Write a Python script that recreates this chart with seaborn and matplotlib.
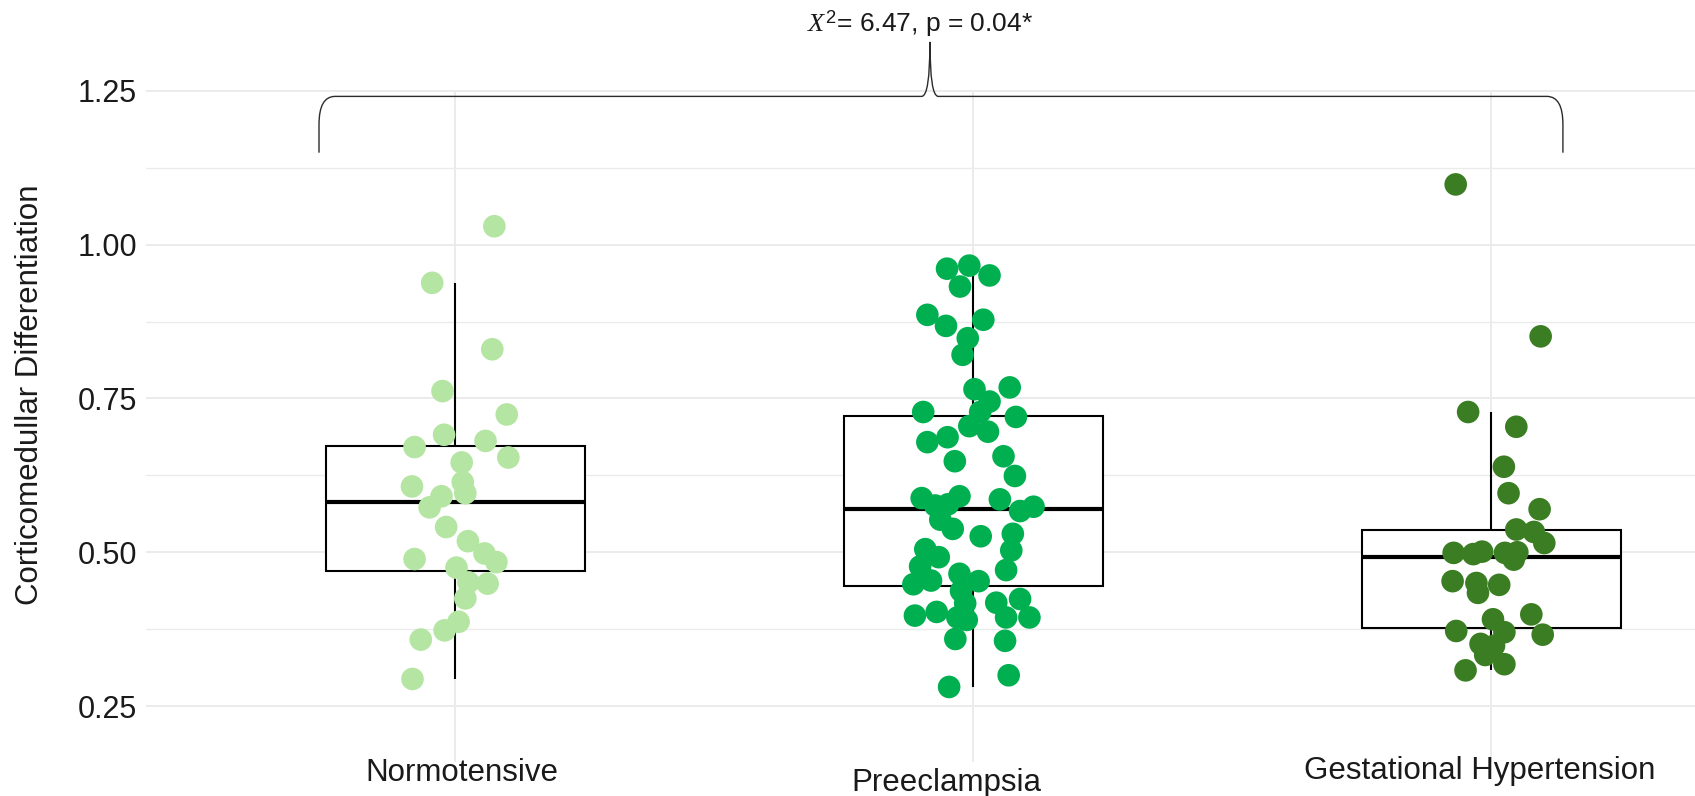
import matplotlib
matplotlib.use("Agg")
import numpy as np
import pandas as pd
import matplotlib.pyplot as plt
import seaborn as sns
from matplotlib.path import Path
from matplotlib.patches import PathPatch

# ---- data -------------------------------------------------------------
groups = ["Normotensive", "Preeclampsia", "Gestational Hypertension"]
group_colors = ["#B4E5A2", "#00B050", "#3A7D22"]

normotensive = [1.030, 0.938, 0.830, 0.762, 0.724, 0.691, 0.681, 0.671, 0.654,
                0.646, 0.607, 0.614, 0.596, 0.591, 0.573, 0.541, 0.518, 0.498,
                0.484, 0.489, 0.475, 0.449, 0.451, 0.425, 0.387, 0.373, 0.358,
                0.294]
normotensive_jitter = [0.075, -0.045, 0.071, -0.025, 0.099, -0.022, 0.058, -0.079,
                       0.102, 0.012, -0.084, 0.014, 0.019, -0.027, -0.050, -0.018,
                       0.024, 0.056, 0.079, -0.079, 0.002, 0.062, 0.025, 0.019,
                       0.006, -0.021, -0.067, -0.083]

preeclampsia = [0.961, 0.966, 0.950, 0.932, 0.886, 0.868, 0.878, 0.848, 0.821,
                0.765, 0.768, 0.745, 0.728, 0.728, 0.720, 0.705, 0.696, 0.679,
                0.687, 0.648, 0.656, 0.624, 0.588, 0.591, 0.586, 0.576, 0.578,
                0.574, 0.567, 0.553, 0.538, 0.526, 0.530, 0.505, 0.492, 0.503,
                0.477, 0.471, 0.465, 0.448, 0.454, 0.453, 0.437, 0.417, 0.418,
                0.424, 0.397, 0.403, 0.394, 0.390, 0.394, 0.394, 0.359, 0.356,
                0.300, 0.281]
preeclampsia_jitter = [-0.051, -0.008, 0.031, -0.026, -0.089, -0.053, 0.019, -0.011,
                       -0.021, 0.002, 0.070, 0.031, 0.013, -0.097, 0.082, -0.008,
                       0.028, -0.089, -0.050, -0.036, 0.058, 0.080, -0.100, -0.027,
                       0.051, -0.074, -0.049, 0.116, 0.090, -0.064, -0.040, 0.014,
                       0.076, -0.093, -0.067, 0.073, -0.103, 0.063, -0.027, -0.116,
                       -0.082, 0.010, -0.024, -0.016, 0.044, 0.090, -0.113, -0.071,
                       -0.031, -0.013, 0.063, 0.108, -0.035, 0.061, 0.068, -0.047]

gestational = [1.098, 0.851, 0.728, 0.704, 0.639, 0.596, 0.570, 0.537, 0.533,
               0.515, 0.499, 0.501, 0.497, 0.499, 0.500, 0.488, 0.453, 0.450,
               0.447, 0.434, 0.399, 0.391, 0.372, 0.370, 0.366, 0.351, 0.348,
               0.333, 0.318, 0.308]
gestational_jitter = [-0.069, 0.095, -0.045, 0.048, 0.024, 0.033, 0.093, 0.048,
                      0.082, 0.102, -0.073, -0.018, -0.035, 0.026, 0.050, 0.043,
                      -0.075, -0.029, 0.015, -0.026, 0.077, 0.003, -0.068, 0.025,
                      0.099, -0.021, 0.005, -0.012, 0.025, -0.050]

y_ticks = [0.25, 0.50, 0.75, 1.00, 1.25]
y_minor = [0.375, 0.625, 0.875, 1.125]
stat_label = r"$X^2$= 6.47, p = 0.04*"
y_title = "Corticomedullar Differentiation"

# ---- tidy table --------------------------------------------------------
frames = []
for code, (name, vals, jit) in enumerate(zip(
        groups,
        [normotensive, preeclampsia, gestational],
        [normotensive_jitter, preeclampsia_jitter, gestational_jitter])):
    frames.append(pd.DataFrame({
        "group": name,
        "value": vals,
        "pos": code + np.asarray(jit),
    }))
df = pd.concat(frames, ignore_index=True)

# ---- style -------------------------------------------------------------
sns.set_style("white")
plt.rcParams["font.family"] = ["Liberation Sans", "DejaVu Sans"]
plt.rcParams["mathtext.fontset"] = "custom"
plt.rcParams["mathtext.it"] = "Liberation Serif:italic"
plt.rcParams["mathtext.rm"] = "Liberation Sans"

W, H = 1695, 796
fig = plt.figure(figsize=(W / 100, H / 100), dpi=100)
ax = fig.add_axes([146 / W, 34 / H, 1549 / W, 672 / H])

# ---- grid ----------------------------------------------------------------
ax.set_axisbelow(True)
for yv in y_ticks:
    ax.axhline(yv, color="#ebebeb", lw=1.4, zorder=0)
for yv in y_minor:
    ax.axhline(yv, color="#ebebeb", lw=1.0, zorder=0)
for xv in range(len(groups)):
    ax.axvline(xv, color="#ebebeb", lw=1.4, zorder=0)

# ---- boxes ---------------------------------------------------------------
sns.boxplot(data=df, x="group", y="value", order=groups, width=0.5,
            color="white", linecolor="black", linewidth=1.5,
            showcaps=False, showfliers=False, whis=1.5,
            medianprops={"linewidth": 3.0, "color": "black"},
            ax=ax)

# ---- jittered points -------------------------------------------------------
sns.scatterplot(data=df, x="pos", y="value", hue="group", hue_order=groups,
                palette=group_colors, s=265, linewidth=0, alpha=1.0,
                legend=False, zorder=4, ax=ax)

# ---- axes ------------------------------------------------------------------
ax.set_xlim(-0.5975, 2.393)
ax.set_ylim(0.159, 1.2515)
ax.set_yticks(y_ticks)
ax.set_yticklabels([f"{v:.2f}" for v in y_ticks])
ax.tick_params(axis="y", length=0, pad=6.5, labelsize=22, labelcolor="#1a1a1a")
ax.set_xticks(range(len(groups)))
ax.set_xticklabels([""] * len(groups))
ax.tick_params(axis="x", length=0)
ax.set_xlabel("")
ax.grid(False)
for side in ax.spines.values():
    side.set_visible(False)

ax.set_ylabel(y_title, fontsize=22.5, color="#1a1a1a", va="center")
ax.yaxis.set_label_coords(-0.0749, 0.5465)

# category labels, nudged individually (pixels)
label_nudge = [(6.5, -11), (-27.5, -21), (-11.5, -9)]
for i, (name, (dx, dy)) in enumerate(zip(groups, label_nudge)):
    ax.annotate(name, xy=(i, 0), xycoords=("data", "axes fraction"),
                xytext=(dx, dy), textcoords="offset pixels",
                ha="center", va="center", fontsize=22.5, color="#1a1a1a",
                annotation_clip=False)

# ---- bracket with test statistic ---------------------------------------
left, right = -0.2635, 2.138
level, foot = 1.2411, 1.1496
tip_x, tip_y = 0.916, 1.3297
cx, cy = 0.031, 0.0456
tw = 0.016
verts = [
    (left, foot), (left, level - cy),
    (left, level), (left + cx, level),
    (tip_x - tw, level),
    (tip_x, level), (tip_x, tip_y),
    (tip_x, level), (tip_x + tw, level),
    (right - cx, level),
    (right, level), (right, level - cy),
    (right, foot),
]
codes = [Path.MOVETO, Path.LINETO,
         Path.CURVE3, Path.CURVE3,
         Path.LINETO,
         Path.CURVE3, Path.CURVE3,
         Path.CURVE3, Path.CURVE3,
         Path.LINETO,
         Path.CURVE3, Path.CURVE3,
         Path.LINETO]
ax.add_patch(PathPatch(Path(verts, codes), fill=False, lw=1.0,
                       edgecolor="#2b2b2b", clip_on=False, zorder=5))
ax.text(0.897, 1.346, stat_label, ha="center", va="baseline",
        fontsize=19, color="#1a1a1a", clip_on=False)

fig.savefig("out.png", dpi=100, facecolor="white")
